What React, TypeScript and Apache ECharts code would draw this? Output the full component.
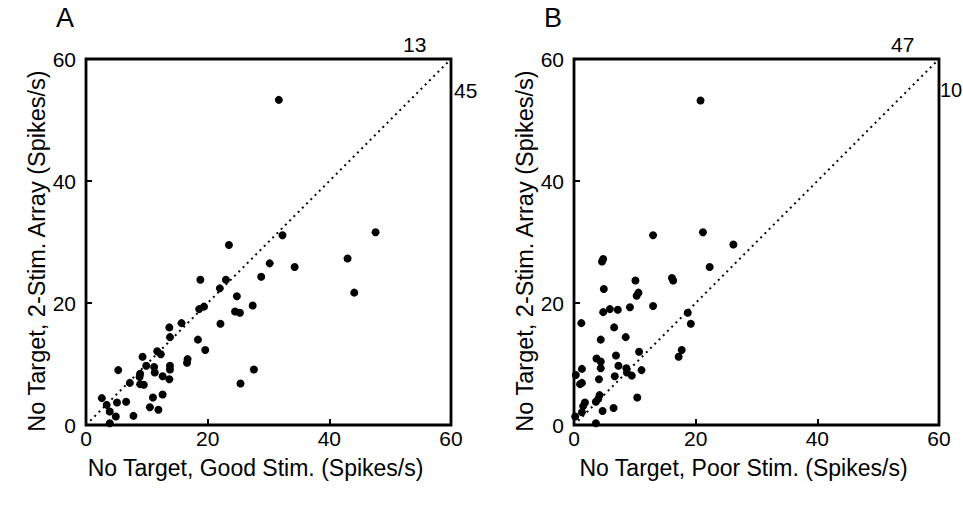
import { useEffect, useRef } from "react";
import * as echarts from "echarts";

// Panel A: No Target, Good Stim. (x) vs No Target, 2-Stim. Array (y)
const panelAGood = [
  31.7, 23.5, 32.3, 47.6, 43.0, 44.1, 30.2, 34.3, 28.8, 23.0, 22.0, 18.8, 24.8, 19.4,
  24.5, 25.3, 27.4, 18.6, 15.7, 13.7, 22.1, 13.8, 18.4, 19.6, 11.7, 12.3, 9.3, 16.7,
  16.6, 9.9, 11.2, 13.8, 13.8, 5.3, 11.3, 8.9, 8.8, 12.6, 13.7, 7.2, 8.9, 9.5, 12.6,
  11.0, 2.6, 6.6, 5.1, 3.4, 10.5, 11.9, 3.9, 4.9, 7.8, 3.9, 25.4, 27.6,
];
const panelAArray = [
  53.3, 29.5, 31.1, 31.6, 27.3, 21.7, 26.5, 25.9, 24.3, 23.8, 22.4, 23.8, 21.1, 19.4,
  18.6, 18.4, 19.6, 19.0, 16.7, 16.0, 16.6, 14.4, 14.0, 12.3, 12.1, 11.6, 11.2, 10.8,
  10.2, 9.7, 9.5, 9.7, 9.1, 9.0, 8.6, 8.4, 7.9, 8.0, 7.5, 6.9, 6.7, 6.6, 5.0,
  4.5, 4.4, 3.8, 3.7, 3.3, 2.9, 2.5, 2.2, 1.4, 1.5, 0.3, 6.8, 9.1,
];

// Panel B: No Target, Poor Stim. (x) vs No Target, 2-Stim. Array (y)
const panelBPoor = [
  20.8, 13.0, 21.2, 26.2, 4.6, 4.8, 22.3, 16.1, 16.3, 10.1, 4.9, 10.3, 10.6, 13.0, 9.2,
  4.8, 5.9, 7.2, 18.7, 1.2, 19.2, 6.6, 8.5, 4.4, 10.7, 17.7, 17.2, 3.7, 4.4, 6.9,
  1.3, 4.4, 7.3, 8.6, 8.7, 9.5, 11.1, 6.7, 0.3, 4.1, 1.3, 1.0, 10.4, 4.2, 4.0,
  3.6, 1.8, 1.5, 6.5, 4.7, 1.3, 0.2, 3.6,
];
const panelBArray = [
  53.2, 31.1, 31.6, 29.6, 26.8, 27.2, 25.9, 24.1, 23.7, 23.7, 22.3, 21.2, 21.7, 19.5, 19.3,
  18.5, 19.0, 18.9, 18.4, 16.7, 16.6, 16.0, 14.4, 14.0, 12.0, 12.3, 11.2, 10.9, 10.4, 11.4,
  9.2, 9.3, 9.7, 9.3, 8.6, 8.1, 9.0, 8.0, 8.2, 7.5, 6.9, 6.7, 4.5, 4.9, 4.3,
  3.8, 3.7, 3.1, 2.8, 2.3, 2.1, 1.4, 0.3,
];

const axisMin = 0;
const axisMax = 60;
const axisStep = 20;
const unityLine = [
  [0, 0],
  [60, 60],
];

const xNames = ["No Target, Good Stim. (Spikes/s)", "No Target, Poor Stim. (Spikes/s)"];
const yName = "No Target, 2-Stim. Array (Spikes/s)";
const panelLetters = ["A", "B"];
const aboveCounts = ["13", "47"];
const belowCounts = ["45", "10"];

const FONT = '"Liberation Sans", Arial, Helvetica, sans-serif';

export default function App() {
  const ref = useRef<HTMLDivElement>(null);

  useEffect(() => {
    if (!ref.current) return;
    const chart = echarts.init(ref.current, undefined, { renderer: "svg" });

    const gridLefts = [86, 574];
    const gridTop = 59;
    const gridW = 365;
    const gridH = 366;

    const mkX = (i: number) => ({
      type: "value",
      gridIndex: i,
      min: axisMin,
      max: axisMax,
      interval: axisStep,
      name: xNames[i],
      nameLocation: "middle",
      nameGap: 31,
      nameTextStyle: { color: "#000", fontSize: 23, fontFamily: FONT, padding: [0, 26, 0, 0] },
      axisLine: { show: false },
      axisTick: { show: true, inside: true, length: 6, lineStyle: { color: "#000", width: 2 } },
      axisLabel: { color: "#000", fontSize: 21, fontFamily: FONT, margin: 3 },
      splitLine: { show: false },
    });
    const mkY = (i: number) => ({
      type: "value",
      gridIndex: i,
      min: axisMin,
      max: axisMax,
      interval: axisStep,
      name: yName,
      nameLocation: "middle",
      nameGap: 33,
      nameTextStyle: { color: "#000", fontSize: 23.5, fontFamily: FONT, padding: [0, 18, 0, 0] },
      axisLine: { show: false },
      axisTick: { show: true, inside: true, length: 6, lineStyle: { color: "#000", width: 2 } },
      axisLabel: { color: "#000", fontSize: 21, fontFamily: FONT, margin: 10 },
      splitLine: { show: false },
    });

    const pairs = (xs: number[], ys: number[]) => xs.map((x, k) => [x, ys[k]]);

    const graphics: any[] = [];
    [0, 1].forEach((i) => {
      const gl = gridLefts[i];
      graphics.push({
        type: "text",
        left: gl - 30,
        top: 4,
        style: { text: panelLetters[i], fill: "#000", font: `27px ${FONT}` },
      });
      graphics.push({
        type: "text",
        left: gl + gridW - 48,
        top: 34,
        style: { text: aboveCounts[i], fill: "#000", font: `21px ${FONT}` },
      });
      graphics.push({
        type: "text",
        left: gl + gridW + (i === 0 ? 3 : 1),
        top: 80,
        style: { text: belowCounts[i], fill: "#000", font: `${i === 0 ? 21 : 20}px ${FONT}` },
      });
    });

    const dot = { color: "#000", opacity: 1 };

    chart.setOption({
      animation: false,
      backgroundColor: "#fff",
      grid: [0, 1].map((i) => ({
        left: gridLefts[i],
        top: gridTop,
        width: gridW,
        height: gridH,
        show: true,
        borderColor: "#000",
        borderWidth: 2.8,
        backgroundColor: "transparent",
      })),
      xAxis: [mkX(0), mkX(1)],
      yAxis: [mkY(0), mkY(1)],
      series: [
        {
          type: "line",
          xAxisIndex: 0,
          yAxisIndex: 0,
          data: unityLine,
          symbol: "none",
          lineStyle: { color: "#000", width: 2, type: [2, 4] },
        },
        {
          type: "line",
          xAxisIndex: 1,
          yAxisIndex: 1,
          data: unityLine,
          symbol: "none",
          lineStyle: { color: "#000", width: 2, type: [2, 4] },
        },
        {
          type: "scatter",
          xAxisIndex: 0,
          yAxisIndex: 0,
          data: pairs(panelAGood, panelAArray),
          symbol: "circle",
          symbolSize: 8,
          itemStyle: dot,
        },
        {
          type: "scatter",
          xAxisIndex: 1,
          yAxisIndex: 1,
          data: pairs(panelBPoor, panelBArray),
          symbol: "circle",
          symbolSize: 8,
          itemStyle: dot,
        },
      ],
      graphic: graphics,
    });

    return () => chart.dispose();
  }, []);

  return (
    <div
      ref={ref}
      style={{ position: "absolute", left: 0, top: 0, width: 963, height: 510, background: "#fff" }}
    />
  );
}
